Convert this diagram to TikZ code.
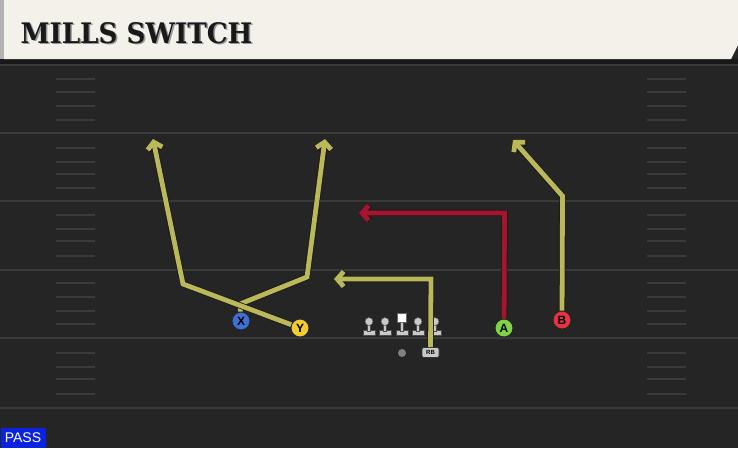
\documentclass[tikz,border=0pt]{standalone}
\usepackage{fontspec}
\usepackage{graphicx}
\usetikzlibrary{arrows.meta}

\newfontfamily\titlefont{DejaVu Serif}
\newfontfamily\labelfont{Liberation Sans}

\definecolor{fieldgray}{HTML}{252525}
\definecolor{yardgray}{HTML}{3A3A3A}
\definecolor{headerbeige}{HTML}{F4F1EA}
\definecolor{routeyellow}{RGB}{187,184,90}
\definecolor{routered}{RGB}{168,20,46}
\definecolor{xblue}{HTML}{3D6FD6}
\definecolor{yyellow}{HTML}{F2CC2E}
\definecolor{agreen}{HTML}{7ED444}
\definecolor{bred}{HTML}{E6333F}
\definecolor{linegray}{HTML}{C9C9C9}
\definecolor{passblue}{HTML}{0B22DE}

\tikzset{
  player/.style={circle, draw=black!85, line width=0.9pt, minimum size=18pt,
    inner sep=0pt, font=\labelfont\bfseries\fontsize{12}{12}\selectfont},
  route/.style={line width=4.8pt, line join=miter,
    preaction={draw=black!90, line width=6.4pt},
    -{Straight Barb[length=6.5pt,width=15pt]}},
  hash/.style={yardgray, line width=1.6pt},
}

\begin{document}
\begin{tikzpicture}[x=1pt, y=-1pt, line width=1pt]
  \useasboundingbox (0,0) rectangle (738,448);

  % field and header
  \fill[fieldgray] (0,0) rectangle (738,448);
  \fill[black!90] (0,59) rectangle (738,64);
  \fill[black!30] (0,0) rectangle (4,59);
  \fill[headerbeige] (4,0) -- (738,0) -- (738,45) -- (731,59) -- (4,59) -- cycle;

  \draw (21.5,44.5) node[anchor=base west, inner sep=0pt, text=black!40, name=titleshadow]
    {\resizebox{232pt}{21pt}{\titlefont\bfseries MILLS SWITCH}};
  \draw (20,43) node[anchor=base west, inner sep=0pt, text=black!90, name=title]
    {\resizebox{232pt}{21pt}{\titlefont\bfseries MILLS SWITCH}};

  % yard lines and hashes
  \foreach \y in {65,133,201,270,338,408}
    \draw[yardgray, line width=2pt] (0,\y) -- (738,\y);
  \foreach \y in {79,92,106,120,148,162,174,188,215,229,241,256,283,297,311,324,353,367,379,394} {
    \draw[hash] (56,\y) -- (95,\y);
    \draw[hash] (647,\y) -- (686,\y);
  }

  % line
  \foreach \x in {369,385,418,435} {
    \filldraw[linegray, draw=black!70, line width=0.5pt] (\x-6,330.5) rectangle (\x+6,335.5);
    \filldraw[linegray, draw=black!70, line width=0.5pt] (\x-1.5,322) rectangle (\x+1.5,331);
    \filldraw[linegray, draw=black!70, line width=0.5pt] (\x,321.5) circle [radius=4];
  }
  \filldraw[linegray, draw=black!70, line width=0.5pt] (396,330.5) rectangle (408,335.5);
  \filldraw[linegray, draw=black!70, line width=0.5pt] (400.5,321) rectangle (403.5,331);
  \filldraw[white, draw=black!60, line width=0.5pt] (397.5,313) rectangle (406.5,322);

  \draw (402,353) node[circle, fill=black!50, minimum size=8pt, inner sep=0pt, name=QB] {};
  \draw (430.5,352.5) node[rounded corners=2pt, fill=linegray, draw=black!80, line width=0.6pt,
    minimum width=17pt, minimum height=10pt, inner sep=0pt,
    font=\labelfont\bfseries\fontsize{6}{6}\selectfont, name=RB] {RB};

  % players
  \draw (241,321) node[player, fill=xblue, name=X] {X};
  \draw (300,328) node[player, fill=yyellow, name=Y] {Y};
  \draw (504,328) node[player, fill=agreen, name=A] {A};
  \draw (562,320) node[player, fill=bred, name=B] {B};

  % routes
  \coordinate (xcross) at (240,304);
  \coordinate (xbreak) at (307,277);
  \coordinate (xtip) at (325,139);
  \coordinate (ybreak) at (183,284);
  \coordinate (ytip) at (153,139);
  \coordinate (rbbreak) at (431,279);
  \coordinate (rbtip) at (334,279);
  \coordinate (abreak) at (504.5,213);
  \coordinate (atip) at (359,213);
  \coordinate (bbreak) at (562.5,196);
  \coordinate (btip) at (513,140);

  \draw[route, routeyellow] (X) -- (xcross) -- (xbreak) -- (xtip);
  \draw[route, routeyellow] (Y) -- (ybreak) -- (ytip);
  \draw[route, routeyellow] (RB) -- (rbbreak) -- (rbtip);
  \draw[route, routered] (A) -- (abreak) -- (atip);
  \draw[route, routeyellow] (B) -- (bbreak) -- (btip);

  \draw (0,448) node[anchor=south west, fill=passblue, text=white, minimum width=45pt,
    minimum height=20pt, inner sep=0pt, font=\labelfont\fontsize{14}{14}\selectfont,
    name=pass] {PASS};

\end{tikzpicture}
\end{document}
